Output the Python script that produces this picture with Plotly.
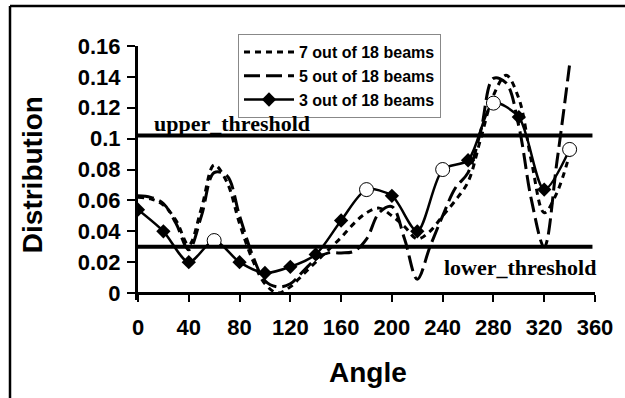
import plotly.graph_objects as go

# ---- data ---------------------------------------------------------------
angles_3 = [0, 20, 40, 60, 80, 100, 120, 140, 160, 180, 200, 220, 240, 260, 280, 300, 320, 340]
beams_3 = [0.054, 0.040, 0.020, 0.034, 0.020, 0.013, 0.017, 0.025, 0.047, 0.067,
           0.063, 0.040, 0.080, 0.086, 0.123, 0.114, 0.067, 0.093]
selected_angles = [60, 180, 240, 280, 340]

angles_fine = list(range(0, 341, 10))
beams_7 = [0.062, 0.061, 0.057, 0.047, 0.031, 0.055, 0.083, 0.072, 0.045, 0.022,
           0.006, 0.000, 0.004, 0.012, 0.020, 0.028, 0.036, 0.045, 0.052, 0.055,
           0.050, 0.043, 0.035, 0.040, 0.050, 0.060, 0.072, 0.100, 0.128, 0.141,
           0.126, 0.085, 0.052, 0.065, 0.090]
beams_5 = [0.063, 0.062, 0.058, 0.045, 0.028, 0.050, 0.078, 0.076, 0.050, 0.025,
           0.008, 0.004, 0.006, 0.014, 0.022, 0.026, 0.026, 0.027, 0.035, 0.052,
           0.056, 0.035, 0.009, 0.030, 0.050, 0.068, 0.078, 0.105, 0.139, 0.136,
           0.108, 0.060, 0.030, 0.085, 0.148]

upper_threshold = 0.102
lower_threshold = 0.03
threshold_span = [0, 358]

x_ticks = [0, 40, 80, 120, 160, 200, 240, 280, 320, 360]
y_ticks = [0, 0.02, 0.04, 0.06, 0.08, 0.1, 0.12, 0.14, 0.16]
y_tick_labels = ["0", "0.02", "0.04", "0.06", "0.08", "0.1", "0.12", "0.14", "0.16"]

# ---- layout geometry (pixels) --------------------------------------------
W, H = 625, 398
X_RANGE = [0, 360]
Y_RANGE = [-0.0045, 0.16]
PLOT_L, PLOT_R, PLOT_T = 138, 595, 46
PX_PER_Y = 1542.0
PLOT_B = PLOT_T + (Y_RANGE[1] - Y_RANGE[0]) * PX_PER_Y


def px_x(px):
    return (px - PLOT_L) / (PLOT_R - PLOT_L)


def px_y(py):
    return (PLOT_B - py) / (PLOT_B - PLOT_T)


SANS = "Liberation Sans, Arial, sans-serif"
SERIF = "Liberation Serif, Times New Roman, serif"

fig = go.Figure()

fig.add_trace(go.Scatter(
    x=angles_fine, y=beams_7, mode="lines", name="7 out of 18 beams",
    line=dict(color="black", width=3, dash="6px,5px", shape="spline", smoothing=1),
))
fig.add_trace(go.Scatter(
    x=angles_fine, y=beams_5, mode="lines", name="5 out of 18 beams",
    line=dict(color="black", width=3, dash="16px,6px", shape="spline", smoothing=1),
))
fig.add_trace(go.Scatter(
    x=angles_3, y=beams_3, mode="lines+markers", name="3 out of 18 beams",
    line=dict(color="black", width=2.5, shape="spline", smoothing=0.8),
    marker=dict(symbol="diamond", size=11, color="black"),
))

# open circles on the selected beam angles
sel_vals = [beams_3[angles_3.index(a)] for a in selected_angles]
fig.add_trace(go.Scatter(
    x=selected_angles, y=sel_vals, mode="markers", showlegend=False,
    marker=dict(symbol="circle", size=14, color="white",
                line=dict(color="black", width=1)),
))

# threshold lines
for level in (upper_threshold, lower_threshold):
    fig.add_trace(go.Scatter(
        x=threshold_span, y=[level, level], mode="lines", showlegend=False,
        line=dict(color="black", width=4),
    ))

frame_line = dict(color="black", width=2.5)

fig.update_layout(
    width=W, height=H,
    margin=dict(l=PLOT_L, r=W - PLOT_R, t=PLOT_T, b=H - PLOT_B, pad=0),
    paper_bgcolor="white", plot_bgcolor="white",
    showlegend=True,
    legend=dict(
        x=px_x(238), y=px_y(34), xanchor="left", yanchor="top",
        bgcolor="white", bordercolor="#888888", borderwidth=1,
        font=dict(family=SANS, size=16, color="black", weight="bold"),
        itemwidth=50, tracegroupgap=0,
    ),
    xaxis=dict(
        range=X_RANGE, tickvals=x_ticks, showgrid=False, zeroline=False,
        showline=True, linecolor="black", linewidth=3,
        ticks="outside", ticklen=7, tickwidth=2, tickcolor="black",
        anchor="free", position=(0 - Y_RANGE[0]) / (Y_RANGE[1] - Y_RANGE[0]),
        tickfont=dict(family=SANS, size=22, color="black", weight="bold"),
        ticklabelstandoff=7,
    ),
    yaxis=dict(
        range=Y_RANGE, tickvals=y_ticks, ticktext=y_tick_labels,
        showgrid=False, zeroline=False,
        showline=True, linecolor="black", linewidth=3,
        ticks="outside", ticklen=8, tickwidth=2, tickcolor="black",
        tickfont=dict(family=SANS, size=22, color="black", weight="bold"),
        ticklabelstandoff=2,
    ),
    annotations=[
        dict(text="Distribution", x=px_x(32), y=px_y(175), xref="paper", yref="paper",
             showarrow=False, textangle=-90, xanchor="center", yanchor="middle",
             font=dict(family=SANS, size=28, color="black", weight="bold")),
        dict(text="Angle", x=px_x(368), y=px_y(372), xref="paper", yref="paper",
             showarrow=False, xanchor="center", yanchor="middle",
             font=dict(family=SANS, size=28, color="black", weight="bold")),
        dict(text="upper_threshold", x=px_x(152), y=px_y(123), xref="paper", yref="paper",
             showarrow=False, xanchor="left", yanchor="middle",
             font=dict(family=SERIF, size=22, color="black", weight="bold")),
        dict(text="lower_threshold", x=px_x(442), y=px_y(267), xref="paper", yref="paper",
             showarrow=False, xanchor="left", yanchor="middle",
             font=dict(family=SERIF, size=22, color="black", weight="bold")),
    ],
    shapes=[
        # chart frame: left and top edges (the others run off the page)
        dict(type="line", xref="paper", yref="paper",
             x0=px_x(10), y0=px_y(H + 2), x1=px_x(10), y1=px_y(6), line=frame_line),
        dict(type="line", xref="paper", yref="paper",
             x0=px_x(10), y0=px_y(6), x1=px_x(W + 2), y1=px_y(6), line=frame_line),
    ],
)

# keep the page from showing scrollbars around the fixed-size figure
page_css = (
    "document.documentElement.style.overflow='hidden';"
    "document.body.style.overflow='hidden';"
    "document.body.style.margin='0';"
)
fig.write_html("out.html", post_script=page_css, config={"displayModeBar": False})
